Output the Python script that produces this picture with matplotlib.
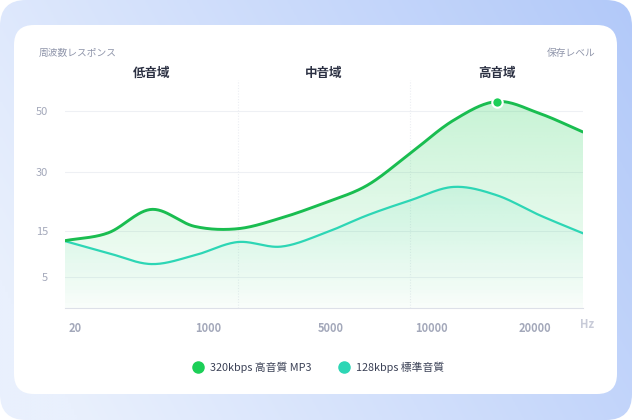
import numpy as np
import matplotlib.pyplot as plt
from matplotlib.patches import FancyBboxPatch
from matplotlib.lines import Line2D
from matplotlib.colors import to_rgb

plt.rcParams['font.family'] = ['Noto Sans CJK JP', 'DejaVu Sans']

# data (13 sample points across the band, values in 保存レベル units)
sample_idx = np.arange(13)
hq_mp3 = [13.0, 14.7, 20.6, 16.3, 15.7, 18.4, 22.2, 26.7, 36.2, 46.9, 53.0, 49.1, 43.1]
std_128 = [12.9, 10.3, 7.9, 9.8, 12.7, 11.7, 14.6, 19.1, 22.9, 26.3, 24.2, 19.1, 14.6]
peak_idx = 10
freq_labels = ['20', '1000', '5000', '10000', '20000']
freq_pos = [0.24, 3.31, 6.15, 8.5, 10.88]
level_ticks = [5, 15, 30, 50]
bands = ['低音域', '中音域', '高音域']
band_pos = [2, 6, 10]
dividers = [4, 8]
series_names = ['320kbps 高音質 MP3', '128kbps 標準音質']

GREEN = '#19bd50'
TEAL = '#2dd6b5'
GRID = '#eef0f4'
TICK = '#a3a8ba'

# uneven level axis, like the original
lv = np.array([0, 5, 15, 30, 50, 60])
hp = np.array([0, 30.7, 76.7, 136, 197.7, 228.55])
fwd = lambda v: np.interp(v, lv, hp)
inv = lambda h: np.interp(h, hp, lv)


def smooth(vals, n=30):
    p = fwd(np.asarray(vals, float))
    m = np.gradient(p)
    xs, ys = [], []
    for i in range(len(p) - 1):
        t = np.linspace(0, 1, n, endpoint=False)
        h00 = 2*t**3 - 3*t**2 + 1
        h10 = t**3 - 2*t**2 + t
        h01 = -2*t**3 + 3*t**2
        h11 = t**3 - t**2
        xs.append(i + t)
        ys.append(h00*p[i] + h10*m[i] + h01*p[i+1] + h11*m[i+1])
    xs.append([len(p) - 1])
    ys.append([p[-1]])
    return np.concatenate(xs), inv(np.concatenate(ys))


fig = plt.figure(figsize=(6.32, 4.2), dpi=100)

# background frame + card
bg = fig.add_axes([0, 0, 1, 1], zorder=-5)
bg.set_xlim(0, 632)
bg.set_ylim(420, 0)
bg.axis('off')
gx, gy = np.meshgrid(np.linspace(0, 1, 200), np.linspace(0, 1, 140))
w = np.clip(0.8 * gx + 0.3 * (1 - gy) - 0.1, 0, 1)[..., None]
c1 = np.array(to_rgb('#e9f0fd'))
c2 = np.array(to_rgb('#b2c9f9'))
img = c1 * (1 - w) + c2 * w
outer = FancyBboxPatch((0, 0), 632, 420, boxstyle='round,pad=0,rounding_size=26',
                       fc='none', ec='none')
bg.add_patch(outer)
im = bg.imshow(img, extent=[0, 632, 420, 0], aspect='auto')
im.set_clip_path(outer)
card = FancyBboxPatch((14, 25), 603, 369, boxstyle='round,pad=0,rounding_size=20',
                      fc='white', ec='none')
bg.add_patch(card)
bg.text(39, 53, '周波数レスポンス', fontsize=7, color='#8f95aa', va='center')
bg.text(596, 53, '保存レベル', fontsize=7, color='#8f95aa', va='center', ha='right')

ax = fig.add_axes([65/632, 112/420, 518/632, 228/420])
ax.set_yscale('function', functions=(fwd, inv))
ax.set_xlim(0, 12)
ax.set_ylim(0, 60)
ax.patch.set_alpha(0)

gx_h, gy_h = np.meshgrid([0, 1], np.linspace(1, 0, 200))

for vals, col, a_top, a_bot in [(hq_mp3, '#34d466', 0.30, 0.03), (std_128, '#2cd6a6', 0.20, 0.0)]:
    xs, ys = smooth(vals)
    poly = ax.fill_between(xs, 0, ys, color='none', lw=0)
    rgba = np.zeros((200, 2, 4))
    rgba[..., :3] = to_rgb(col)
    rgba[..., 3] = a_bot + (a_top - a_bot) * gy_h
    g = ax.imshow(rgba, extent=[0, 1, 0, 1], transform=ax.transAxes, aspect='auto', zorder=1)
    g.set_clip_path(poly.get_paths()[0], ax.transData)

xs, ys = smooth(std_128)
ax.plot(xs, ys, color=TEAL, lw=1.6, zorder=3, solid_capstyle='round')
xs, ys = smooth(hq_mp3)
ax.plot(xs, ys, color=GREEN, lw=2.1, zorder=4, solid_capstyle='round')
ax.plot(sample_idx[peak_idx], hq_mp3[peak_idx], 'o', ms=7.5, color='#1ccf57',
        mec='white', mew=1.5, zorder=5)

for y in level_ticks:
    ax.axhline(y, color=GRID, lw=0.8, zorder=0)
for d in dividers:
    ax.axvline(d, color='#eceef3', lw=0.8, ls=(0, (1, 1.5)), zorder=0)

for s in ['top', 'right', 'left']:
    ax.spines[s].set_visible(False)
ax.spines['bottom'].set_color('#dde0e8')
ax.spines['bottom'].set_linewidth(0.8)

ax.set_yticks(level_ticks)
ax.set_yticklabels([str(t) for t in level_ticks])
ax.set_xticks(freq_pos)
ax.set_xticklabels(freq_labels, fontweight='bold')
ax.tick_params(axis='both', length=0, labelsize=8, labelcolor=TICK)
ax.tick_params(axis='y', pad=12)
ax.tick_params(axis='x', pad=10)
ax.text(12.1, -0.045, 'Hz', transform=ax.get_xaxis_transform(), fontsize=8, fontweight='bold',
        color='#c8cbd8', ha='center', va='top')
for lab, p in zip(bands, band_pos):
    ax.text(p, 1.03, lab, transform=ax.get_xaxis_transform(), ha='center', va='center',
            fontsize=9, fontweight='bold', color='#2b3042')

handles = [Line2D([], [], ls='none', marker='o', ms=8, color='#1ccf57'),
           Line2D([], [], ls='none', marker='o', ms=8, color=TEAL)]
leg = fig.legend(handles, series_names, loc='center', bbox_to_anchor=(318/632, 1 - 367/420),
                 ncol=2, frameon=False, fontsize=7.8, handletextpad=0.5, columnspacing=2.4,
                 handlelength=1.2)
for t in leg.get_texts():
    t.set_color('#3c4257')

fig.savefig('out.png', dpi=100)
